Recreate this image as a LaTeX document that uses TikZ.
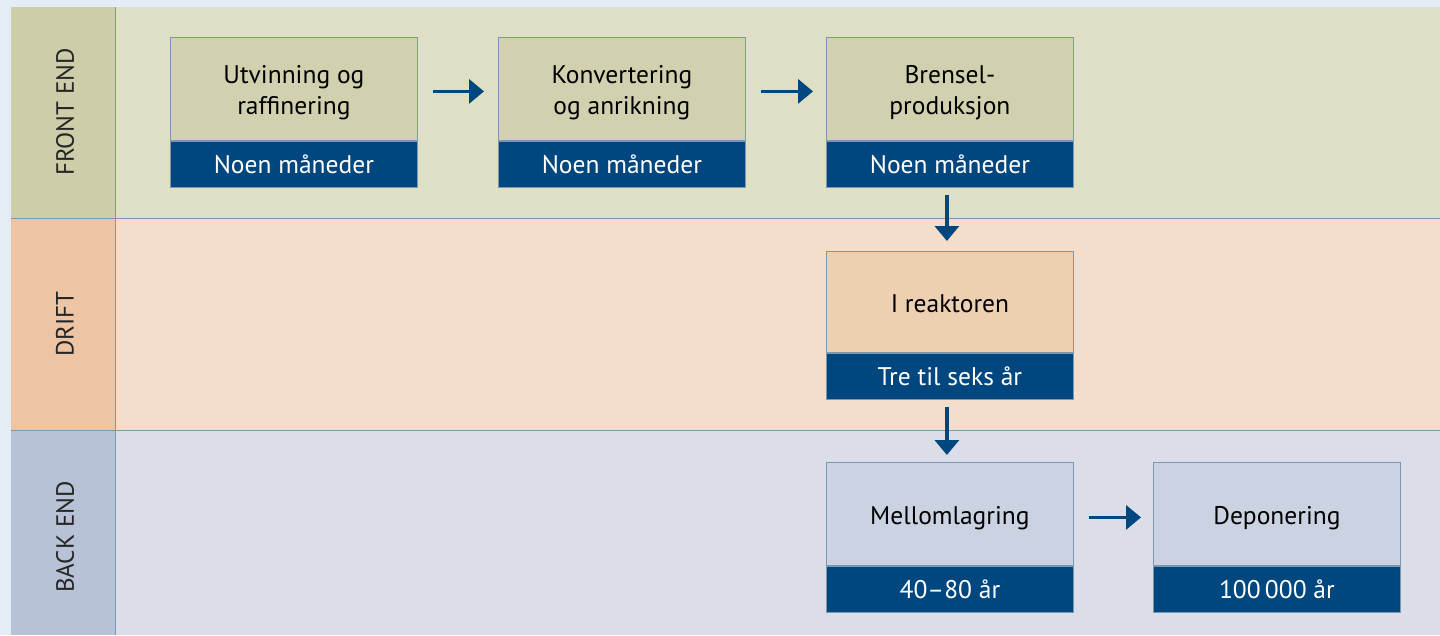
\documentclass[tikz,border=0pt]{standalone}
\usepackage{fontspec}
\setmainfont{PT Sans}
\usetikzlibrary{arrows.meta}
\definecolor{outerbg}{HTML}{E4ECF5}
\definecolor{felab}{HTML}{CDCDA9}
\definecolor{fecont}{HTML}{DEDFC5}
\definecolor{febox}{HTML}{D1D1AF}
\definecolor{drlab}{HTML}{EDC5A5}
\definecolor{drcont}{HTML}{F4DDCA}
\definecolor{drbox}{HTML}{EDCFB1}
\definecolor{belab}{HTML}{B8C2D7}
\definecolor{becont}{HTML}{DBDEE9}
\definecolor{bebox}{HTML}{CBD2E1}
\definecolor{navy}{HTML}{00467F}
\definecolor{rule}{HTML}{7A98B0}
\tikzset{
  boxtop/.style={draw=rule, line width=0.8pt, minimum width=247pt, minimum height=103pt,
    inner sep=0pt, anchor=north west},
  boxtext/.style={align=center, font=\fontsize{25.5}{31}\selectfont, text=black, yshift=-4pt, inner sep=0pt},
  boxband/.style={draw=rule, fill=navy, line width=0.8pt, minimum width=247pt, minimum height=46pt,
    inner sep=0pt, font=\fontsize{25.5}{28}\selectfont, text=white, anchor=north},
  rowlabel/.style={rotate=90, font=\fontsize{25}{28}\selectfont, text=black!85},
  arr/.style={draw=navy, line width=3.5pt, -{Triangle[length=15pt,width=24pt]}}
}
\begin{document}
\begin{tikzpicture}[x=1pt,y=-1pt]
\useasboundingbox (0,0) rectangle (1440,635);
\fill[outerbg] (0,0) rectangle (1440,635);
% rows
\fill[fecont] (115,7) rectangle (1440,218);
\fill[felab] (11,7) rectangle (115,218);
\fill[drcont] (115,218) rectangle (1440,430);
\fill[drlab] (11,218) rectangle (115,430);
\fill[becont] (115,430) rectangle (1440,635);
\fill[belab] (11,430) rectangle (115,635);
\draw[rule, line width=0.9pt] (11,218) -- (1440,218);
\draw[rule, line width=0.9pt] (11,430) -- (1440,430);
\draw[rule, line width=0.9pt] (115,7) -- (115,635);
% row labels
\node[rowlabel] (lfe) at (65,112) {FRONT END};
\node[rowlabel] (ldr) at (65,324) {DRIFT};
\node[rowlabel] (lbe) at (65,537) {BACK END};
% boxes
\node[boxtop, fill=febox, label={[boxtext, name=b1l]center:{Utvinning og\\raffinering}}] (b1) at (170,37) {};
\node[boxband] (b1t) at (b1.south) {Noen måneder};
\node[boxtop, fill=febox, label={[boxtext, name=b2l]center:{Konvertering\\og anrikning}}] (b2) at (498,37) {};
\node[boxband] (b2t) at (b2.south) {Noen måneder};
\node[boxtop, fill=febox, label={[boxtext, name=b3l]center:{Brensel-\\produksjon}}] (b3) at (826,37) {};
\node[boxband] (b3t) at (b3.south) {Noen måneder};
\node[boxtop, fill=drbox, minimum height=101pt, label={[boxtext, name=rl, yshift=2pt]center:{I reaktoren}}] (r) at (826,251) {};
\node[boxband] (rt) at (r.south) {Tre til seks år};
\node[boxtop, fill=bebox, label={[boxtext, name=ml]center:{Mellomlagring}}] (m) at (826,462) {};
\node[boxband] (mt) at (m.south) {40–80 år};
\node[boxtop, fill=bebox, label={[boxtext, name=dl]center:{Deponering}}] (d) at (1153,462) {};
\node[boxband] (dt) at (d.south) {100\,000 år};
% arrows
\draw[arr] ([xshift=15pt,yshift=-2.5pt]b1.east) -- ([xshift=-14pt,yshift=-2.5pt]b2.west);
\draw[arr] ([xshift=15pt,yshift=-2.5pt]b2.east) -- ([xshift=-13pt,yshift=-2.5pt]b3.west);
\draw[arr] ([xshift=-3pt,yshift=-7pt]b3t.south) -- ([xshift=-3pt,yshift=10pt]r.north);
\draw[arr] ([xshift=-3pt,yshift=-7pt]rt.south) -- ([xshift=-3pt,yshift=7pt]m.north);
\draw[arr] ([xshift=15pt,yshift=-3.5pt]m.east) -- ([xshift=-12pt,yshift=-3.5pt]d.west);
\end{tikzpicture}
\end{document}
